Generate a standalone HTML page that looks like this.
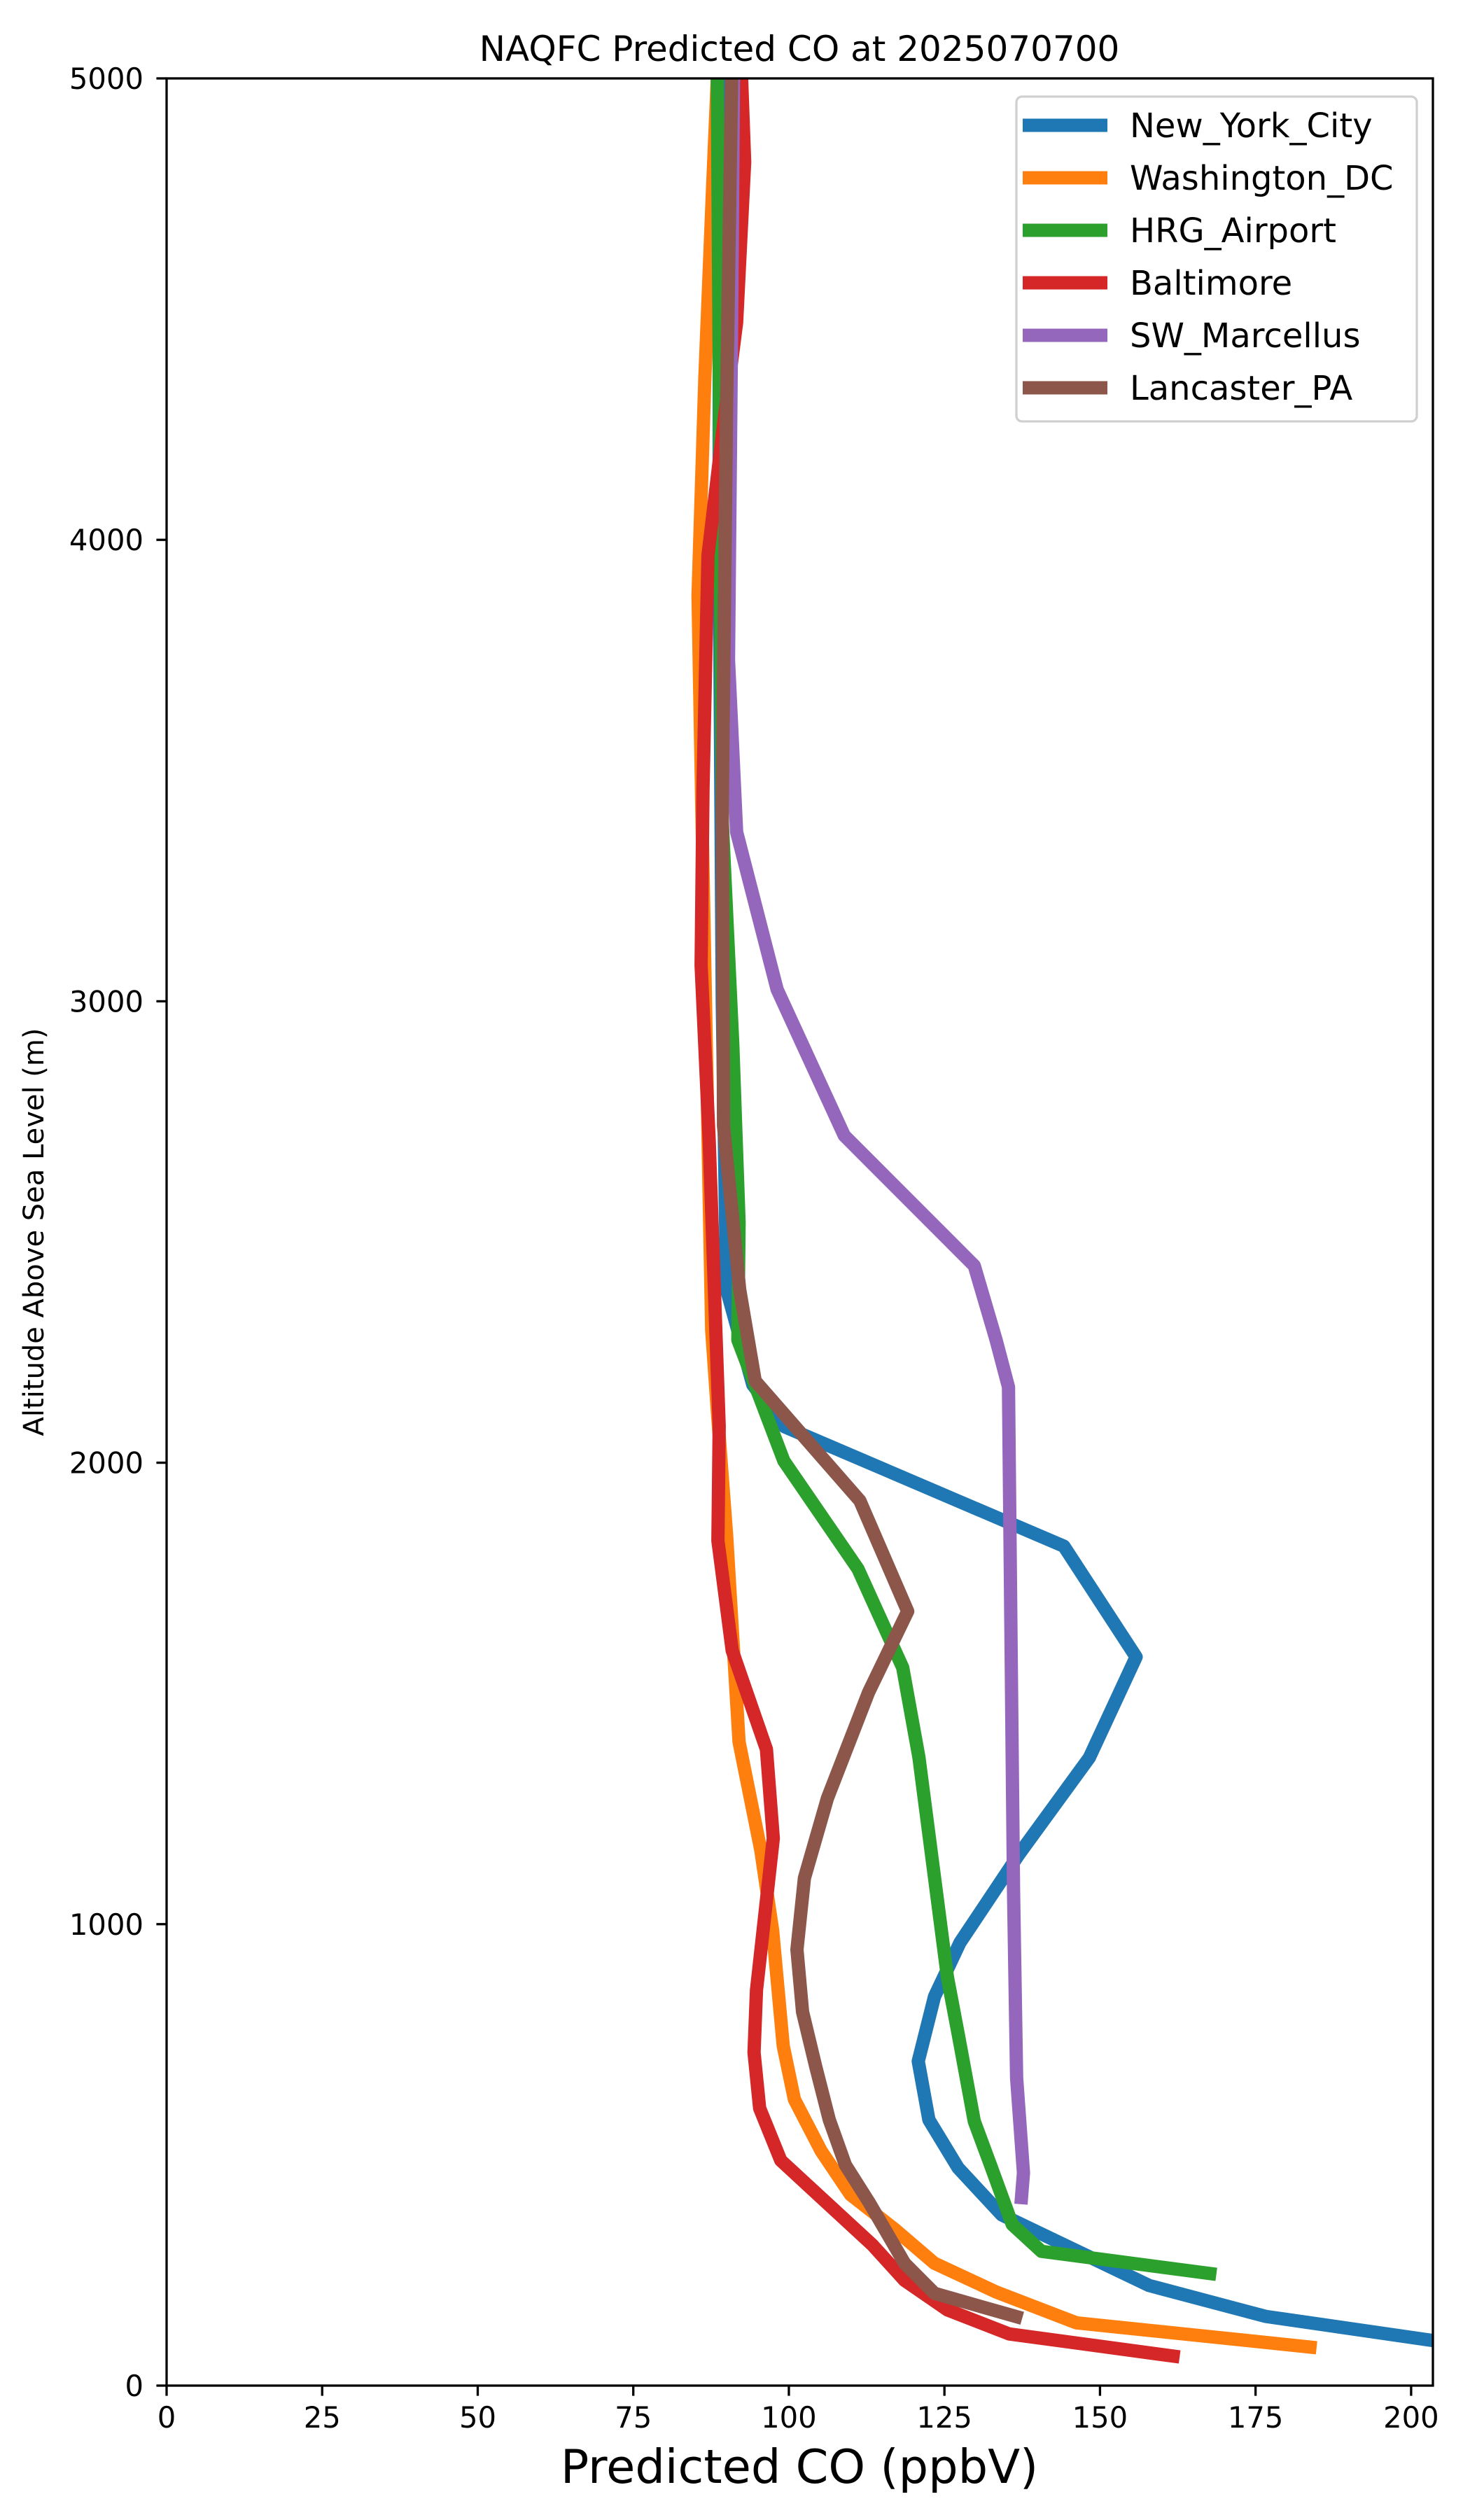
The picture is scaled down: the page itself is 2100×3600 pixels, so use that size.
<!DOCTYPE html>
<html><head><meta charset="utf-8"><style>
html,body{margin:0;padding:0;background:#fff;}
svg{display:block;font-family:"DejaVu Sans","Liberation Sans",sans-serif;}
</style></head><body>
<svg id="chart" width="2100" height="3600" viewBox="0 0 2100 3600" xmlns="http://www.w3.org/2000/svg">
<rect width="2100" height="3600" fill="#fff"/>
<defs><clipPath id="plotclip"><rect x="238" y="112" width="1809" height="3296"/></clipPath></defs>
<g id="series" clip-path="url(#plotclip)"></g>
<g id="axes"></g>
<text x="1142" y="87" font-size="50" text-anchor="middle">NAQFC Predicted CO at 2025070700</text>
<text x="1142" y="3547" font-size="67" text-anchor="middle">Predicted CO (ppbV)</text>
<text x="0" y="0" font-size="40" text-anchor="middle" transform="translate(62,1760) rotate(-90)">Altitude Above Sea Level (m)</text>
<g id="legend"></g>
</svg>
<script>
const seriesNames = ["New_York_City","Washington_DC","HRG_Airport","Baltimore","SW_Marcellus","Lancaster_PA"];
const seriesColors = ["#1f77b4","#ff7f0e","#2ca02c","#d62728","#9467bd","#8c564b"];
const xTicks = [0,25,50,75,100,125,150,175,200];
const yTicks = [0,1000,2000,3000,4000,5000];
const nycAlt = [85,150,217,370,472,576,703,843,960,1152,1361,1579,1819,2078,2169,2375,3000,4000,5000];
const nycVal = [210,176.6,157.9,134.2,127.2,122.5,120.8,123.4,127.5,137,148.3,155.8,144.2,99.3,94.2,90,89.3,88.8,88.8];
const dcAlt = [82,136,203,265,340,414,508,620,736,986,1160,1395,1843,2113,2288,3426,3879,4349,4749,5000];
const dcVal = [184.8,146.2,133.3,123.4,116.9,109.9,105.2,100.9,99.1,97.4,95.5,92,90,88.5,87.6,86,85.4,86.5,87.7,88.5];
const hrgAlt = [241,291,349,478,573,763,884,1362,1556,1770,2004,2266,2521,2904,3391,5000];
const hrgVal = [168.7,140.6,135.9,132.4,129.8,127.2,125.5,120.9,118.3,111.1,99.2,91.8,92,91,89.3,88.5];
const baltAlt = [62,112,164,228,305,488,601,722,857,1186,1379,1593,1831,2079,2695,3078,3461,3966,4227,4471,4819,5000];
const baltVal = [162.8,135.4,125.5,118.6,113.4,98.7,95.3,94.4,94.8,97.5,96.4,90.9,88.6,88.8,87.2,85.9,86.2,87,89.3,91.6,92.9,92.4];
const swmAlt = [393,461,667,1074,2164,2266,2427,2709,3026,3367,3740,4471,5000];
const swmVal = [137.3,137.7,136.6,136.1,135.3,133.3,129.8,108.9,98.1,91.6,90.3,90.8,91.1];
const lanAlt = [146,200,265,397,478,576,692,810,945,1100,1273,1502,1678,1918,2177,2375,2730,3426,4297,5000];
const lanVal = [137.5,123.4,118.6,112.9,109.1,106.5,104.3,102.2,101.3,102.5,106.2,112.8,119.1,111.4,94.6,92.1,89.5,89.3,90,90.8];
const allAlt = [nycAlt,dcAlt,hrgAlt,baltAlt,swmAlt,lanAlt];
const allVal = [nycVal,dcVal,hrgVal,baltVal,swmVal,lanVal];

const X0=238, X1=2047, Y0=3408, Y1=112, XMAX=203.5, YMAX=5000;
function sx(v){return X0 + v*(X1-X0)/XMAX;}
function sy(a){return Y0 - a*(Y0-Y1)/YMAX;}
const NS="http://www.w3.org/2000/svg";
function mk(tag,attrs,parent){const e=document.createElementNS(NS,tag);for(const k in attrs)e.setAttribute(k,attrs[k]);parent.appendChild(e);return e;}

const sg=document.getElementById('series');
for(let i=0;i<seriesNames.length;i++){
  const pts=allAlt[i].map((a,j)=>sx(allVal[i][j]).toFixed(1)+','+sy(a).toFixed(1)).join(' ');
  const pl=mk('polyline',{points:pts,fill:'none',stroke:seriesColors[i],'stroke-width':19,'stroke-linejoin':'round','stroke-linecap':'butt'},sg);
  
  
}

const ag=document.getElementById('axes');
const frame=mk('rect',{x:X0,y:Y1,width:X1-X0,height:Y0-Y1,fill:'none',stroke:'#000','stroke-width':3.3},ag);


xTicks.forEach(t=>{
  const x=sx(t);
  const tk=mk('line',{x1:x,x2:x,y1:Y0,y2:Y0+14.6,stroke:'#000','stroke-width':3.3},ag);
  
  
  const lb=mk('text',{x:x,y:3468,'font-size':41.7,'text-anchor':'middle'},ag);
  lb.textContent=t;
  
  
});
yTicks.forEach(t=>{
  const y=sy(t);
  const tk=mk('line',{x1:X0-14.6,x2:X0,y1:y,y2:y,stroke:'#000','stroke-width':3.3},ag);
  
  
  const lb=mk('text',{x:205,y:y+15,'font-size':41.7,'text-anchor':'end'},ag);
  lb.textContent=t;
  
  
});

const lg=document.getElementById('legend');
const box=mk('rect',{x:1452,y:138,width:572,height:464,rx:8,fill:'#fff','fill-opacity':0.8,stroke:'#d0d0d0','stroke-width':3.3},lg);


seriesNames.forEach((n,i)=>{
  const y=179+i*75;
  const h=mk('line',{x1:1461,x2:1582,y1:y,y2:y,stroke:seriesColors[i],'stroke-width':19},lg);
  
  
  const t=mk('text',{x:1614,y:y+17,'font-size':48},lg);
  t.textContent=n;
  
  
});
</script>
</body></html>
